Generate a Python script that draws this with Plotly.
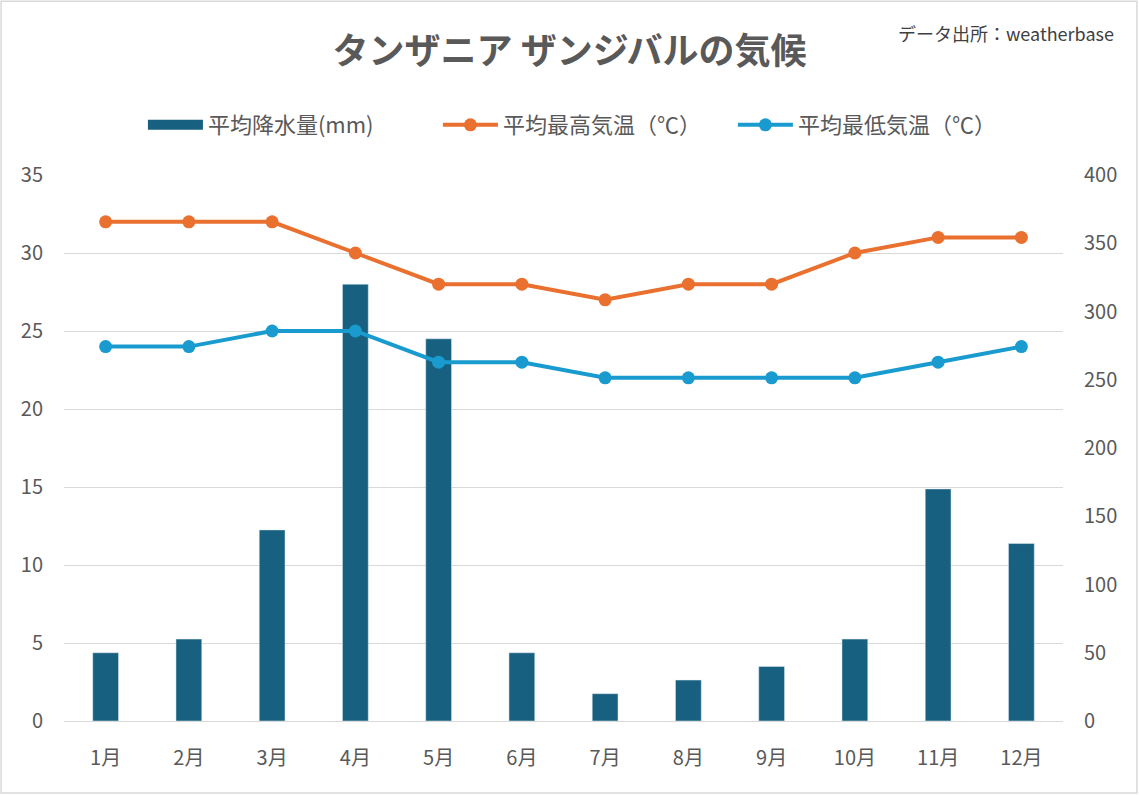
import plotly.graph_objects as go

months = ["1月", "2月", "3月", "4月", "5月", "6月", "7月", "8月", "9月", "10月", "11月", "12月"]
rain_mm = [50, 60, 140, 320, 280, 50, 20, 30, 40, 60, 170, 130]
temp_high = [32, 32, 32, 30, 28, 28, 27, 28, 28, 30, 31, 31]
temp_low = [24, 24, 25, 25, 23, 23, 22, 22, 22, 22, 23, 24]

FONT = "Noto Sans CJK JP"
GRAY = "#595959"
BAR = "#17607f"

fig = go.Figure()
fig.add_trace(go.Bar(x=months, y=rain_mm, name="平均降水量(mm)", marker_color=BAR,
                     yaxis="y", width=0.31, showlegend=False))
fig.add_trace(go.Scatter(x=[None], y=[None], name="平均降水量(mm)", mode="lines",
                         line=dict(color=BAR, width=13), yaxis="y"))
fig.add_trace(go.Scatter(x=months, y=temp_high, name="平均最高気温（℃）", mode="lines+markers",
                         line=dict(color="#e9702f", width=4), marker=dict(size=13, color="#e9702f"),
                         yaxis="y2"))
fig.add_trace(go.Scatter(x=months, y=temp_low, name="平均最低気温（℃）", mode="lines+markers",
                         line=dict(color="#1a9bd0", width=4), marker=dict(size=13, color="#1a9bd0"),
                         yaxis="y2"))

fig.update_layout(
    width=1139, height=795,
    margin=dict(l=64, r=76, t=175, b=74, autoexpand=False),
    paper_bgcolor="white", plot_bgcolor="white",
    font=dict(family=FONT, color=GRAY, size=20),
    title=dict(text="<b>タンザニア ザンジバルの気候</b>", x=0.5, xanchor="center", y=0.935, yanchor="middle",
               font=dict(size=36, color=GRAY, family=FONT)),
    legend=dict(orientation="h", x=0.079, xanchor="left", y=1.0916, yanchor="middle",
                font=dict(size=22, color=GRAY), itemwidth=55, traceorder="normal",
                entrywidth=225, entrywidthmode="pixels"),
    xaxis=dict(showline=True, linecolor="#d9d9d9", linewidth=1, ticks="", showgrid=False,
               range=[-0.5, 11.5],
               tickfont=dict(size=20, color=GRAY), ticklabelstandoff=19, automargin=False),
    yaxis=dict(side="right", range=[0, 400], dtick=50, showgrid=False, zeroline=False,
               tickfont=dict(size=20, color=GRAY), ticklabelstandoff=20, automargin=False),
    yaxis2=dict(side="left", overlaying="y", range=[0, 35], dtick=5, showgrid=True,
                gridcolor="#d9d9d9", gridwidth=1, zeroline=False,
                tickfont=dict(size=20, color=GRAY), ticklabelstandoff=20, automargin=False),
    annotations=[dict(text="データ出所：weatherbase", xref="paper", yref="paper",
                      x=1.053, y=1.260, xanchor="right", yanchor="middle", showarrow=False,
                      font=dict(size=18, color="#404040", family=FONT))],
    shapes=[dict(type="rect", xref="paper", yref="paper", x0=-0.063, x1=1.074, y0=-0.132, y1=1.318,
                 line=dict(color="#d9d9d9", width=1.5), fillcolor="rgba(0,0,0,0)", layer="below")],
)

fig.write_html("out.html", config={"displayModeBar": False},
               post_script="document.body.style.margin='0';")
